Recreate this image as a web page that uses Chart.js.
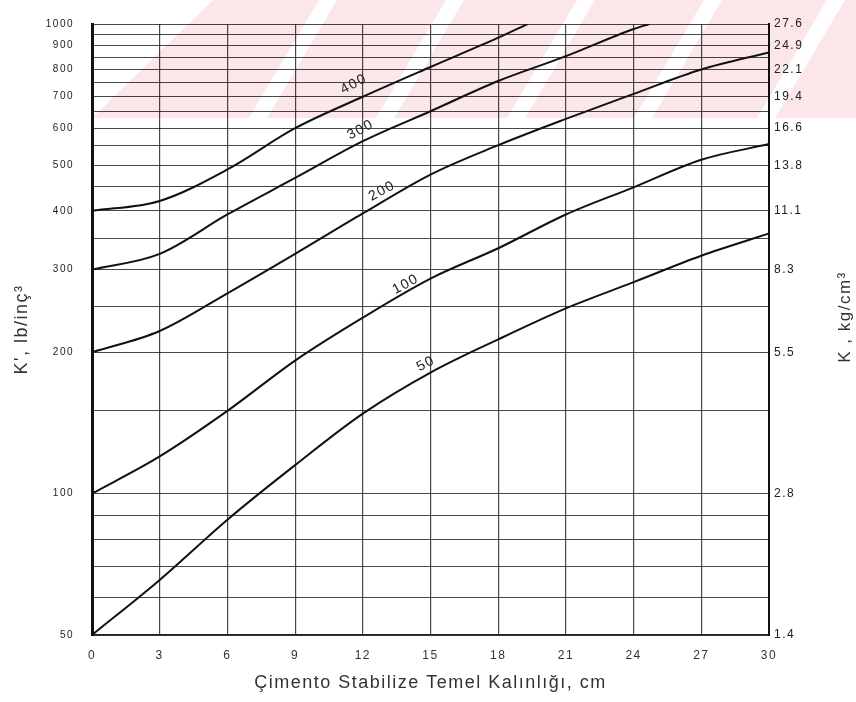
<!DOCTYPE html>
<html>
<head>
<meta charset="utf-8">
<title>K' - Cimento Stabilize Temel Kalinligi</title>
<script src="https://cdn.jsdelivr.net/npm/chart.js@4.4.1/dist/chart.umd.min.js"></script>
<style>
  html, body { margin: 0; padding: 0; background: #fff; }
  #wrap { width: 856px; height: 702px; }
</style>
</head>
<body>
<div id="wrap"><canvas id="kChart" width="856" height="702"></canvas></div>
<script>
// base thickness (cm) where the curves were read
var thickness = [0, 3, 6, 9, 12, 15, 18, 21, 24, 27, 30];

// K' (lb/in3) on each curve
var k50  = [50, 65.5, 88, 115, 148, 181, 213, 248, 282, 321, 358];
var k100 = [100, 120, 150, 192, 237, 287, 333, 393, 449, 514, 555];
var k200 = [200, 222, 267, 324, 395, 478, 552, 628, 710, 800, 870];

// these two run off the top of the chart, so they stop at 1000
var thickness300 = [0, 3, 6, 9, 12, 15, 18, 21, 24, 24.7];
var k300 = [300, 324, 393, 470, 563, 652, 756, 854, 976, 1000];
var thickness400 = [0, 3, 6, 9, 12, 15, 18, 19.3];
var k400 = [400, 420, 490, 600, 700, 810, 935, 1000];

var curveNames = ['50', '100', '200', '300', '400'];

// y axis: grid lines and the labelled values
var gridValues = [50, 60, 70, 80, 90, 100, 150, 200, 250, 300, 350, 400, 450, 500,
                  550, 600, 650, 700, 750, 800, 850, 900, 950, 1000];
var leftTickLabels = [50, 100, 200, 300, 400, 500, 600, 700, 800, 900, 1000];
var rightTickLabels = ['1.4', '2.8', '5.5', '8.3', '11.1', '13.8', '16.6', '19.4', '22.1', '24.9', '27.6'];
var xTickLabels = [0, 3, 6, 9, 12, 15, 18, 21, 24, 27, 30];

function toPoints(xs, ys) {
  var pts = [];
  for (var i = 0; i < xs.length; i++) {
    pts.push({x: xs[i], y: ys[i]});
  }
  return pts;
}

function curve(label, xs, ys) {
  return {
    label: label,
    data: toPoints(xs, ys),
    borderColor: '#111',
    borderWidth: 2,
    pointRadius: 0,
    fill: false,
    cubicInterpolationMode: 'monotone'
  };
}

function setGridTicks(scale) {
  scale.ticks = gridValues.map(function(v) { return {value: v}; });
}

// where the curve names sit (data units)
var nameSpots = {
  '400': [11.6, 745],
  '300': [11.9, 595],
  '200': [12.85, 441],
  '100': [13.9, 279],
  '50':  [14.8, 189]
};

var decor = {
  id: 'decor',
  beforeDraw: function(chart) {
    var ctx = chart.ctx;
    ctx.letterSpacing = '1.5px';
    // pink watermark band of the scanned page
    ctx.save();
    ctx.fillStyle = '#fbe7ea';
    ctx.beginPath();
    ctx.moveTo(92, 118);
    ctx.lineTo(213, 0);
    ctx.lineTo(856, 0);
    ctx.lineTo(856, 118);
    ctx.closePath();
    ctx.fill();
    ctx.fillStyle = '#fff';
    [319, 446, 577, 704, 827].forEach(function(x0) {
      ctx.beginPath();
      ctx.moveTo(x0, 0);
      ctx.lineTo(x0 + 18, 0);
      ctx.lineTo(x0 - 52, 118);
      ctx.lineTo(x0 - 70, 118);
      ctx.closePath();
      ctx.fill();
    });
    ctx.restore();
  },
  afterDatasetsDraw: function(chart) {
    var ctx = chart.ctx;
    var xs = chart.scales.x, ys = chart.scales.y;
    ctx.save();
    ctx.font = '14px "Liberation Sans"';
    ctx.fillStyle = '#222';
    ctx.textAlign = 'center';
    ctx.textBaseline = 'middle';
    curveNames.forEach(function(n) {
      var p = nameSpots[n];
      ctx.save();
      ctx.translate(xs.getPixelForValue(p[0]), ys.getPixelForValue(p[1]));
      ctx.rotate(-28 * Math.PI / 180);
      ctx.fillText(n, 0, 0);
      ctx.restore();
    });
    ctx.restore();
  },
  afterDraw: function(chart) {
    // right title reads bottom-to-top like the left one
    var ctx = chart.ctx;
    ctx.save();
    ctx.translate(845, 317);
    ctx.rotate(-Math.PI / 2);
    ctx.font = '17px "Liberation Sans"';
    ctx.fillStyle = '#333';
    ctx.textAlign = 'center';
    ctx.textBaseline = 'middle';
    ctx.fillText('K , kg/cm³', 0, 0);
    ctx.restore();
  }
};

var ctx = document.getElementById('kChart');
var chart = new Chart(ctx, {
  type: 'line',
  data: {
    datasets: [
      curve(curveNames[0], thickness, k50),
      curve(curveNames[1], thickness, k100),
      curve(curveNames[2], thickness, k200),
      curve(curveNames[3], thickness300, k300),
      curve(curveNames[4], thickness400, k400)
    ]
  },
  options: {
    responsive: false,
    animation: false,
    layout: { padding: { top: 14 } },
    plugins: {
      legend: { display: false },
      tooltip: { enabled: false }
    },
    scales: {
      x: {
        type: 'linear',
        min: 0,
        max: 30,
        afterBuildTicks: function(scale) {
          scale.ticks = xTickLabels.map(function(v) { return {value: v}; });
        },
        afterFit: function(scale) { scale.height = 67; },
        grid: {
          color: 'rgba(0,0,0,0.72)',
          lineWidth: function(c) { return c.tick && c.tick.value === 30 ? 2 : 1.2; },
          drawTicks: false
        },
        border: { color: '#222', width: 1.5 },
        ticks: {
          padding: 13,
          color: '#333',
          font: { family: 'Liberation Sans', size: 12 }
        },
        title: {
          display: true,
          text: 'Çimento Stabilize Temel Kalınlığı, cm',
          color: '#333',
          font: { family: 'Liberation Sans', size: 18 },
          padding: { top: 0, bottom: 8 }
        }
      },
      y: {
        type: 'logarithmic',
        position: 'left',
        min: 50,
        max: 1000,
        afterBuildTicks: setGridTicks,
        afterFit: function(scale) { scale.width = 92; },
        grid: {
          color: 'rgba(0,0,0,0.72)',
          lineWidth: 1,
          drawTicks: false
        },
        border: { color: '#111', width: 3 },
        ticks: {
          autoSkip: false,
          padding: 18,
          color: '#222',
          font: { family: 'Liberation Sans', size: 10 },
          callback: function(v) {
            return leftTickLabels.indexOf(v) >= 0 ? String(v) : '';
          }
        },
        title: {
          display: true,
          text: 'K\', lb/inç³',
          color: '#333',
          font: { family: 'Liberation Sans', size: 18 },
          padding: { top: 11, bottom: 0 }
        }
      },
      y2: {
        type: 'logarithmic',
        position: 'right',
        min: 50,
        max: 1000,
        afterBuildTicks: setGridTicks,
        afterFit: function(scale) { scale.width = 87; },
        grid: { display: false, drawTicks: false },
        border: { color: '#111', width: 2 },
        ticks: {
          autoSkip: false,
          padding: 5,
          color: '#222',
          font: { family: 'Liberation Sans', size: 12 },
          callback: function(v) {
            var i = leftTickLabels.indexOf(v);
            return i >= 0 ? rightTickLabels[i] : '';
          }
        }
      }
    }
  },
  plugins: [decor]
});
</script>
</body>
</html>
